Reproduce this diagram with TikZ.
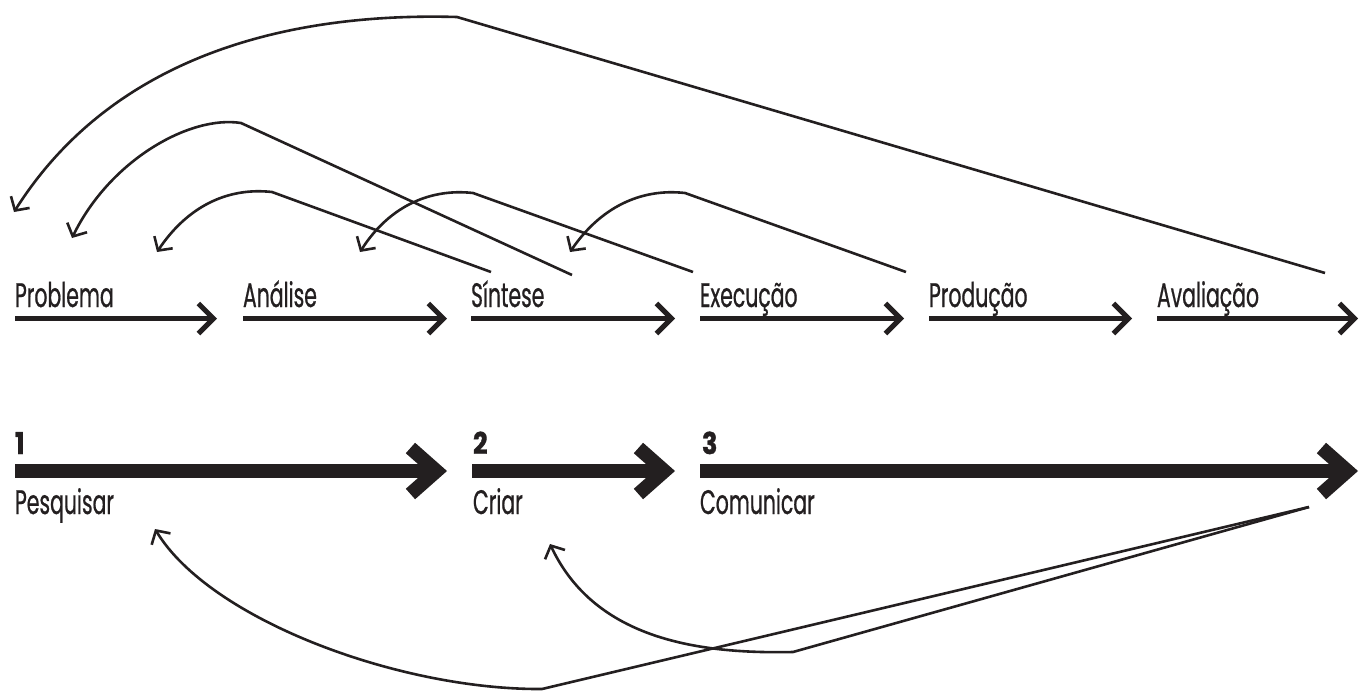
\documentclass[tikz,border=0pt]{standalone}
\usepackage{fontspec}
\setmainfont{Poppins}[FakeStretch=0.6, FakeBold=0.6]
\newfontfamily\numfont{Poppins}[FakeStretch=0.85, FakeBold=1.2]
\usetikzlibrary{arrows.meta,calc}
\definecolor{ink}{HTML}{231F20}
\begin{document}
\begin{tikzpicture}[x=1pt,y=-1pt,
  every node/.style={inner sep=0pt, outer sep=0pt, text=ink, anchor=base west},
  stage/.style={font=\fontsize{34}{34}\selectfont},
  phase/.style={font=\fontsize{34}{34}\selectfont},
  phasenum/.style={font=\numfont\bfseries\fontsize{30}{30}\selectfont},
  flow/.style={draw=ink, line width=5pt, -{Straight Barb[length=15pt,width=30pt]}},
  bigflow/.style={draw=ink, line width=14pt, -{Straight Barb[length=26pt,width=46pt]}},
  loop/.style={draw=ink, line width=2.6pt, -{Straight Barb[length=10pt,width=22pt]}},
]
\useasboundingbox (0,0) rectangle (1360,691);

% ---- stages (top row) ----
\node[stage] (problema) at (15,307) {Problema};
\node[stage] (analise)  at (243,307) {Análise};
\node[stage] (sintese)  at (471,307) {Síntese};
\node[stage] (execucao) at (700,307) {Execução};
\node[stage] (producao) at (929,307) {Produção};
\node[stage] (avaliacao) at (1157,307) {Avaliação};

\foreach \n/\a/\b in {s1/15/217, s2/243/447, s3/471/675, s4/700/904, s5/929/1132, s6/1157/1358}{
  \coordinate (\n a) at (\a,318.5);
  \coordinate (\n b) at (\b,318.5);
  \draw[flow] (\n a) -- (\n b);
}

% ---- phases (bottom row) ----
\node[phasenum] (n1) at (15,454) {1};
\node[phasenum] (n2) at (473,454) {2};
\node[phasenum] (n3) at (702,454) {3};
\node[phase] (pesquisar) at (15,514) {Pesquisar};
\node[phase] (criar)     at (473,514) {Criar};
\node[phase] (comunicar) at (700,514) {Comunicar};

\foreach \n/\a/\b in {f1/15/447, f2/472/675, f3/700/1358}{
  \coordinate (\n a) at (\a,471);
  \coordinate (\n b) at (\b,471);
  \draw[bigflow] (\n a) -- (\n b);
}

% ---- feedback loops above ----
\coordinate (r1s) at (1325,273); \coordinate (r1c) at (457,17);  \coordinate (r1t) at (14,212);
\coordinate (r2s) at (572,275);  \coordinate (r2c) at (241,123); \coordinate (r2t) at (72,238);
\coordinate (r3s) at (491,272);  \coordinate (r3c) at (272,192); \coordinate (r3t) at (157,252);
\coordinate (r4s) at (693,272);  \coordinate (r4c) at (473,193); \coordinate (r4t) at (360,252);
\coordinate (r5s) at (906,272);  \coordinate (r5c) at (685,193); \coordinate (r5t) at (570,252);

\draw[loop] (r1s) -- (r1c) .. controls ($(r1c)+(-177,-5)$) and ($(r1t)+(96,-152)$) .. (r1t);
\draw[loop] (r2s) -- (r2c) .. controls ($(r2c)+(-51,-8)$) and ($(r2t)+(38,-78)$) .. (r2t);
\foreach \n in {r3,r4,r5}{
  \draw[loop] (\n s) -- (\n c) .. controls ($(\n c)+(-45,-5)$) and ($(\n c)+(-85,15)$) .. (\n t);
}

% ---- feedback loops below ----
\coordinate (b0) at (1309,507);
\coordinate (b1c) at (542,689); \coordinate (b1t) at (155,529);
\coordinate (b2c) at (793,652); \coordinate (b2t) at (550,544);
\draw[loop] (b0) -- (b1c) .. controls ($(b1c)+(-142,1)$) and ($(b1t)+(55,91)$) .. (b1t);
\draw[loop] (b0) -- (b2c) .. controls ($(b2c)+(-93,2)$) and ($(b2t)+(45,96)$) .. (b2t);
\end{tikzpicture}
\end{document}
